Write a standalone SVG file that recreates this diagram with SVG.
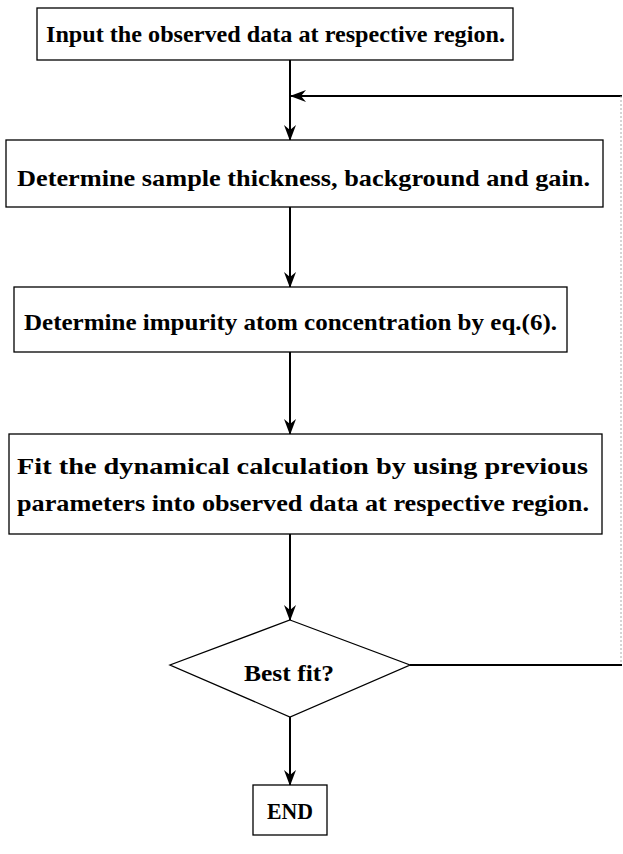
<svg xmlns="http://www.w3.org/2000/svg" width="623" height="854" viewBox="0 0 623 854">
<style>
.box{fill:#fff;stroke:#000;stroke-width:1.3}
.t{font-family:'Liberation Serif', 'Times New Roman', Times, serif;font-weight:700;font-size:24px;fill:#000}
.c{fill:none;stroke:#000;stroke-width:2}
.faint{fill:none;stroke:#aaa;stroke-width:1;stroke-dasharray:2 2}
</style>
<defs>
<marker id="ah" viewBox="0 0 16 12" refX="15" refY="6" markerWidth="16" markerHeight="12" markerUnits="userSpaceOnUse" orient="auto">
<path d="M0,0 L16,6 L0,12 L5,6 Z" fill="#000"/>
</marker>
</defs>
<rect width="623" height="854" fill="#fff"/>
<g id="connectors">
<line class="c" x1="290" y1="60" x2="290" y2="140" marker-end="url(#ah)"/>
<line class="c" x1="622" y1="96" x2="291" y2="96" marker-end="url(#ah)"/>
<line class="faint" x1="621" y1="96" x2="621" y2="665"/>
<line class="c" x1="290" y1="207" x2="290" y2="287" marker-end="url(#ah)"/>
<line class="c" x1="290" y1="352" x2="290" y2="434" marker-end="url(#ah)"/>
<line class="c" x1="290" y1="534" x2="290" y2="620" marker-end="url(#ah)"/>
<line class="c" x1="410" y1="665" x2="622" y2="665"/>
<line class="c" x1="290" y1="717" x2="290" y2="785" marker-end="url(#ah)"/>
</g>
<g id="n1">
<rect class="box" x="37" y="8" width="476" height="52"/>
<text class="t" x="46" y="42" textLength="459" lengthAdjust="spacingAndGlyphs">Input the observed data at respective region.</text>
</g>
<g id="n2">
<rect class="box" x="6" y="140" width="597" height="67"/>
<text class="t" x="17" y="186" textLength="573" lengthAdjust="spacingAndGlyphs">Determine sample thickness, background and gain.</text>
</g>
<g id="n3">
<rect class="box" x="14" y="287" width="553" height="65"/>
<text class="t" x="24" y="330" textLength="533" lengthAdjust="spacingAndGlyphs">Determine impurity atom concentration by eq.(6).</text>
</g>
<g id="n4">
<rect class="box" x="9" y="434" width="593" height="100"/>
<text class="t" x="17" y="474" textLength="571" lengthAdjust="spacingAndGlyphs">Fit the dynamical calculation by using previous</text>
<text class="t" x="17" y="511" textLength="572" lengthAdjust="spacingAndGlyphs">parameters into observed data at respective region.</text>
</g>
<g id="n5">
<polygon class="box" points="290,620 410,665 290,717 170,665"/>
<text class="t" x="244" y="681" textLength="90" lengthAdjust="spacingAndGlyphs">Best fit?</text>
</g>
<g id="n6">
<rect class="box" x="253" y="785" width="74" height="50"/>
<text class="t" x="267" y="819" textLength="46" lengthAdjust="spacingAndGlyphs">END</text>
</g>
</svg>
